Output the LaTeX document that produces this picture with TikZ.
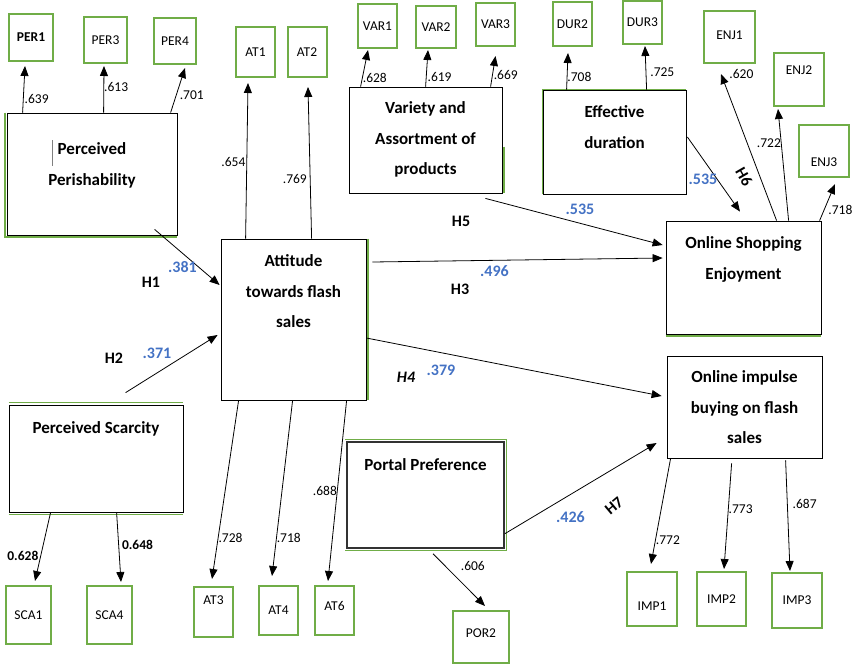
\documentclass[tikz,border=0pt]{standalone}
\usepackage{fontspec}
\setmainfont{Carlito}
\usetikzlibrary{arrows.meta,positioning}

\definecolor{indgreen}{HTML}{70AD47}
\definecolor{coefblue}{HTML}{4472C4}

\tikzset{
    construct/.style={draw=black, line width=0.8pt, inner sep=0pt},
    ctitle/.style={align=center, inner sep=0pt, font=\fontsize{17}{30.5}\selectfont\bfseries},
    indicator/.style={draw=indgreen, line width=2pt, inner sep=0pt, font=\fontsize{13.5}{15}\selectfont},
    arr/.style={-{Triangle[length=10pt,width=8pt]}, line width=0.8pt},
    load/.style={font=\fontsize{13.5}{15}\selectfont, inner sep=0pt},
    coef/.style={font=\fontsize{16}{18}\selectfont\bfseries, text=coefblue, inner sep=0pt},
    hyp/.style={font=\fontsize{16}{18}\selectfont\bfseries, inner sep=0pt},
    gedge/.style={draw=indgreen, line width=1.5pt},
}

\begin{document}
\begin{tikzpicture}[x=1pt, y=-1pt]
    \useasboundingbox (0,0) rectangle (859,667);

    % Constructos
    \node[construct, minimum width=170pt, minimum height=122pt] (per) at (92,174) {};
    \node[construct, minimum width=145pt, minimum height=161pt] (att) at (293.5,319.5) {};
    \node[construct, minimum width=153pt, minimum height=106pt] (var) at (425.5,140) {};
    \node[construct, minimum width=143pt, minimum height=104pt] (dur) at (614.5,142) {};
    \node[construct, minimum width=155pt, minimum height=113pt] (ose) at (743.5,277.5) {};
    \node[construct, minimum width=155pt, minimum height=102pt] (imp) at (744.5,407) {};
    \node[construct, minimum width=174pt, minimum height=107pt] (sca) at (96,458.5) {};
    \node[construct, draw=black!80, line width=1.5pt, minimum width=157pt, minimum height=106pt] (por) at (425.5,495) {};

    % Bordes verdes
    \draw[gedge] ([xshift=-1.5pt]per.north west) -- ([xshift=-1.5pt,yshift=-1.5pt]per.south west) -- ([yshift=-1.5pt]per.south east);
    \draw[gedge, line width=1pt] (dur.south west) -- (dur.north west) -- (dur.north east);
    \draw[gedge] ([yshift=2pt]sca.north west) -- ([yshift=2pt]sca.north east);
    \draw[gedge] ([yshift=-2pt]sca.south west) -- ([yshift=-2pt]sca.south east);
    \draw[gedge] ([xshift=1.5pt]att.north east) -- ([xshift=1.5pt]att.south east);
    \draw[gedge] ([yshift=-1.5pt]ose.south west) -- ([yshift=-1.5pt]ose.south east);
    \draw[gedge] ([xshift=1.5pt,yshift=-60pt]var.north east) -- ([xshift=1.5pt]var.south east);
    \draw[gedge, line width=1pt] ([xshift=-1.5pt,yshift=1.5pt]por.north west) -- ([xshift=1.5pt,yshift=1.5pt]por.north east)
        -- ([xshift=1.5pt,yshift=-1.5pt]por.south east) -- ([xshift=-1.5pt,yshift=-1.5pt]por.south west);

    % Titulos
    \node[ctitle, below=27pt of per.north] (per-t) {\llap{\color{gray}\rule[-11pt]{0.8pt}{26pt}\hspace{5pt}}Perceived\\Perishability};
    \node[ctitle, below=16pt of att.north] (att-t) {Attitude\\towards flash\\sales};
    \node[ctitle, below=15pt of var.north] (var-t) {Variety and\\Assortment of\\products};
    \node[ctitle, below=16pt of dur.north] (dur-t) {Effective\\duration};
    \node[ctitle, below=16pt of ose.north] (ose-t) {Online Shopping\\Enjoyment};
    \node[ctitle, below=15pt of imp.north] (imp-t) {Online impulse\\buying on flash\\sales};
    \node[ctitle, below=17pt of sca.north] (sca-t) {Perceived Scarcity};
    \node[ctitle, below=17pt of por.north] (por-t) {Portal Preference};

    % Indicadores
    \node[indicator, minimum width=44pt, minimum height=47pt] (per1) at (31,37.5) {\bfseries PER1};
    \node[indicator, minimum width=43pt, minimum height=46pt] (per3) at (105.5,40) {PER3};
    \node[indicator, minimum width=42pt, minimum height=46pt] (per4) at (175,41) {PER4};
    \node[indicator, minimum width=39pt, minimum height=50pt] (at1) at (255.5,52) {AT1};
    \node[indicator, minimum width=39pt, minimum height=50pt] (at2) at (307,52) {AT2};
    \node[indicator, minimum width=39pt, minimum height=44pt] (var1) at (377.5,26) {VAR1};
    \node[indicator, minimum width=40pt, minimum height=42pt] (var2) at (436,27) {VAR2};
    \node[indicator, minimum width=39pt, minimum height=43pt] (var3) at (495.5,24.5) {VAR3};
    \node[indicator, minimum width=39pt, minimum height=44pt] (dur2) at (572.5,24) {DUR2};
    \node[indicator, minimum width=39pt, minimum height=43pt] (dur3) at (642.5,22.5) {DUR3};
    \node[indicator, minimum width=51pt, minimum height=52pt, text height=10pt, text depth=6pt] (enj1) at (729.5,37) {ENJ1};
    \node[indicator, minimum width=50pt, minimum height=53pt, text height=10pt, text depth=19.5pt] (enj2) at (799,79.5) {ENJ2};
    \node[indicator, minimum width=50pt, minimum height=52pt, text height=32pt, text depth=0.5pt] (enj3) at (824,151) {ENJ3};
    \node[indicator, minimum width=45pt, minimum height=58pt] (sca1) at (28.5,615) {SCA1};
    \node[indicator, minimum width=45pt, minimum height=58pt] (sca4) at (109.5,615) {SCA4};
    \node[indicator, minimum width=39pt, minimum height=50pt, text height=10pt, text depth=24.5pt] (at3) at (213.5,612) {AT3};
    \node[indicator, minimum width=39pt, minimum height=49pt] (at4) at (278.5,610.5) {AT4};
    \node[indicator, minimum width=39pt, minimum height=49pt, text height=10pt, text depth=10pt] (at6) at (334.5,610.5) {AT6};
    \node[indicator, minimum width=56pt, minimum height=52pt, text height=10pt, text depth=10pt] (por2) at (481,637) {POR2};
    \node[indicator, minimum width=50pt, minimum height=54pt, text height=23pt, text depth=0.5pt] (imp1) at (652,599) {IMP1};
    \node[indicator, minimum width=49pt, minimum height=54pt] (imp2) at (721.5,599) {IMP2};
    \node[indicator, minimum width=50pt, minimum height=55pt] (imp3) at (797,600.5) {IMP3};

    % Cargas hacia arriba
    \draw[arr] ([xshift=16pt]per.north west) -- ([xshift=-6pt,yshift=-4pt]per1.south) node[load, pos=0.3, right=1pt] {.639};
    \draw[arr] ([xshift=97pt]per.north west) -- ([xshift=-1.5pt,yshift=-2pt]per3.south) node[load, pos=0.55, right=0pt] {.613};
    \draw[arr] ([xshift=164pt]per.north west) -- ([xshift=10pt,yshift=-3pt]per4.south) node[load, pos=0.4, right=3pt] {.701};
    \draw[arr] ([xshift=25pt]att.north west) -- ([xshift=-7.5pt,yshift=-5pt]at1.south) node[load, pos=0.49, left=1pt] {.654};
    \draw[arr] ([xshift=91pt]att.north west) -- ([xshift=1pt,yshift=-9pt]at2.south) node[load, pos=0.39, left=3pt] {.769};
    \draw[arr] ([xshift=12pt]var.north west) -- ([xshift=-9.5pt,yshift=-1pt]var1.south) node[load, pos=0.25, right=0pt] {.628};
    \draw[arr] ([xshift=77pt]var.north west) -- ([xshift=-8pt,yshift=-1pt]var2.south) node[load, pos=0.25, right=1pt] {.619};
    \draw[arr] ([xshift=142pt]var.north west) -- ([yshift=-9pt]var3.south) node[load, pos=0.375, right=1pt] {.669};
    \draw[arr] ([xshift=24pt]dur.north west) -- ([xshift=-4.5pt,yshift=-6pt]dur2.south) node[load, pos=0.34, right=0pt] {.708};
    \draw[arr] ([xshift=104pt]dur.north west) -- ([xshift=2.5pt,yshift=-1pt]dur3.south) node[load, pos=0.4, right=4pt] {.725};
    \draw[arr] ([xshift=111pt]ose.north west) -- ([xshift=-8.5pt,yshift=-10pt]enj1.south) node[load, pos=1, right=8pt] {.620};
    \draw[arr] ([xshift=123pt]ose.north west) -- ([xshift=-21pt,yshift=-2pt]enj2.south) node[load, pos=0.69, left=0pt] {.722};
    \draw[arr] ([xshift=154pt]ose.north west) -- ([xshift=11pt,yshift=-6pt]enj3.south) node[load, pos=0.29, right=4pt] {.718};

    % Cargas hacia abajo
    \draw[arr] ([xshift=18pt]att.south west) -- ([xshift=-1.5pt,yshift=7pt]at3.north) node[load, pos=0.77, right=0pt] {.728};
    \draw[arr] ([xshift=72pt]att.south west) -- ([xshift=-6.5pt,yshift=9pt]at4.north) node[load, pos=0.785, right=0pt] {.718};
    \draw[arr] ([xshift=126pt]att.south west) -- ([xshift=-6.5pt,yshift=4pt]at6.north) node[load, pos=0.5, left=0pt] {.688};
    \draw[arr] ([xshift=42pt]sca.south west) -- ([xshift=6.5pt,yshift=4pt]sca1.north) node[load, pos=0.63, left=2pt] {\bfseries 0.628};
    \draw[arr] ([xshift=108pt]sca.south west) -- ([xshift=11.5pt,yshift=3pt]sca4.north) node[load, pos=0.46, right=3pt] {\bfseries 0.648};
    \draw[arr] ([xshift=7.5pt,yshift=-5pt]por.south) -- ([xshift=4pt,yshift=4pt]por2.north) node[load, pos=0.24, right=15pt] {.606};
    \draw[arr] ([xshift=4pt]imp.south west) -- ([xshift=-1pt,yshift=7pt]imp1.north) node[load, pos=0.77, right=0pt] {.772};
    \draw[arr] ([xshift=65pt,yshift=-5pt]imp.south west) -- ([xshift=2.5pt,yshift=2pt]imp2.north) node[load, pos=0.43, right=0pt] {.773};
    \draw[arr] ([xshift=119pt,yshift=-2pt]imp.south west) -- ([xshift=-7pt,yshift=1pt]imp3.north) node[load, pos=0.39, right=5pt] {.687};

    % Hipotesis
    \draw[arr] ([xshift=148pt,yshift=6pt]per.south west) -- ([xshift=-1pt,yshift=34.5pt]att.west);
    \draw[arr] ([xshift=117pt,yshift=12pt]sca.north west) -- ([xshift=-3pt,yshift=-15.5pt]att.west);
    \draw[arr] ([xshift=6pt,yshift=57.5pt]att.east) -- ([xshift=-3pt,yshift=19.5pt]ose.west);
    \draw[arr] ([xshift=-17pt,yshift=-5pt]var.south east) -- ([xshift=-3pt,yshift=32.5pt]ose.west);
    \draw[arr] ([yshift=-18.5pt]att.east) -- ([xshift=-5pt,yshift=11pt]imp.west);
    \draw[arr] ([xshift=1pt,yshift=5pt]dur.east) -- ([xshift=-3.5pt,yshift=9pt]ose.north);
    \draw[arr] ([yshift=15pt]por.south east) -- ([xshift=-10pt,yshift=-36pt]imp.west);

    % Coeficientes y etiquetas H
    \node[coef] (c1) at (182.5,267) {.381};
    \node[hyp] (h1) at (151,282) {H1};
    \node[coef] (c2) at (157,353) {.371};
    \node[hyp] (h2) at (114,358) {H2};
    \node[coef] (c3) at (494.5,271) {.496};
    \node[hyp] (h3) at (460,289) {H3};
    \node[coef] (c4) at (441,370) {.379};
    \node[hyp, font=\fontsize{16}{18}\selectfont\bfseries\itshape] (h4) at (406,377) {H4};
    \node[coef] (c5) at (580,209) {.535};
    \node[hyp] (h5) at (461,221) {H5};
    \node[coef] (c6) at (703,179) {.535};
    \node[hyp, rotate=-60] (h6) at (744,177) {H6};
    \node[coef] (c7) at (570.5,517) {.426};
    \node[hyp, rotate=40] (h7) at (614,506) {H7};
\end{tikzpicture}
\end{document}
